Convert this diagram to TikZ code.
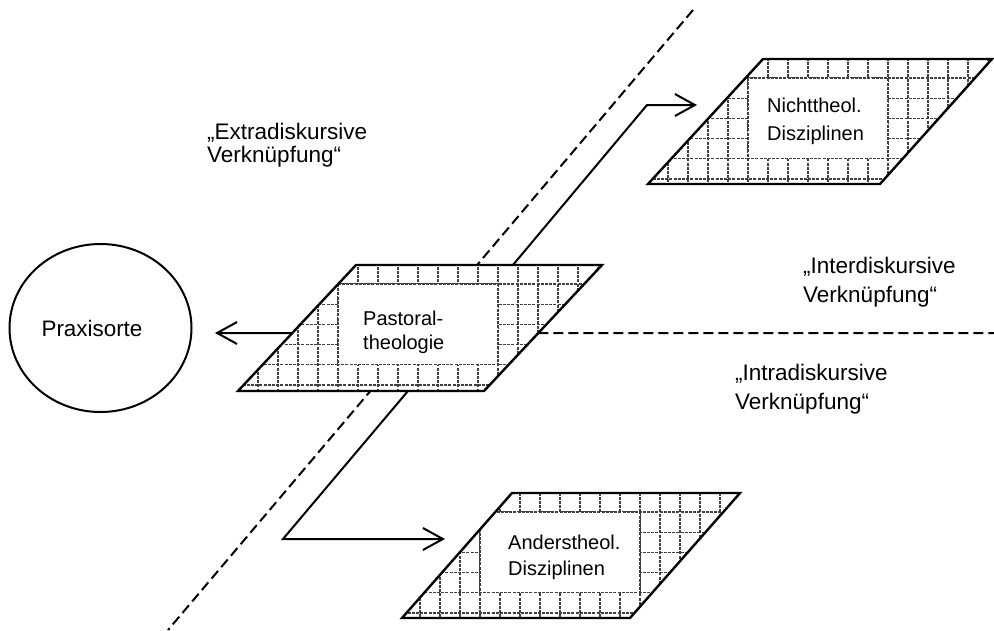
\documentclass[tikz,border=0pt]{standalone}
\usepackage{fontspec}
\setmainfont{Liberation Sans}
\usetikzlibrary{shapes.geometric,arrows.meta,calc}
\pgfdeclarelayer{bg}
\pgfsetlayers{bg,main}
\tikzset{
  gridline/.style={line width=1.1pt, black!75, dash pattern=on 3pt off 1.2pt},
  rim/.style={line width=2.4pt, line join=miter},
  conn/.style={line width=2pt},
  barb/.style={-{Straight Barb[length=20pt,width=22pt]}},
  divider/.style={line width=2pt, dash pattern=on 10pt off 5pt},
  lbl/.style={anchor=west, inner sep=0pt, align=left, font=\fontsize{22.5}{29}\selectfont},
  boxtext/.style={anchor=west, inner sep=0pt, align=left},
}
\begin{document}
\begin{tikzpicture}[x=1pt,y=-1pt]
\fill[white] (0,0) rectangle (994,630);
\useasboundingbox (0,0) rectangle (994,630);

% corners of the parallelograms
\coordinate (pBL) at (238,391); \coordinate (pTL) at (356,265);
\coordinate (pTR) at (602,265); \coordinate (pBR) at (484,391);
\coordinate (nBL) at (648,184); \coordinate (nTL) at (763,59);
\coordinate (nTR) at (992,59);  \coordinate (nBR) at (880,184);
\coordinate (aBL) at (402,618); \coordinate (aTL) at (512,493);
\coordinate (aTR) at (740,493); \coordinate (aBR) at (630,618);

% free ends
\coordinate (dtop) at (693,10);
\coordinate (dbot) at (168,630);
\coordinate (hend) at (994,333);
\coordinate (ptip) at (215,333);
\coordinate (nbend) at (647,105);
\coordinate (ntip) at (697,105);
\coordinate (abend) at (283,539);
\coordinate (atip) at (445,539);

% connection points on Pastoraltheologie
\coordinate (pleft)  at ($(pTL)!0.5397!(pBL)$);
\coordinate (pright) at ($(pTR)!0.5397!(pBR)$);
\coordinate (ptop)   at ($(pTL)!0.638!(pTR)$);
\coordinate (pbot)   at ($(pBL)!0.691!(pBR)$);

% dividers and connectors (behind the boxes)
\draw[divider] (dtop) -- (dbot);
\draw[divider] (pright) -- (hend);
\draw[conn,barb] (pleft) -- (ptip);
\draw[conn,barb] (ptop) -- (nbend) -- (ntip);
\draw[conn,barb] (pbot) -- (abend) -- (atip);

% Pastoraltheologie
\fill[white] (pBL) -- (pTL) -- (pTR) -- (pBR) -- cycle;
\begin{scope}
\clip (pBL) -- (pTL) -- (pTR) -- (pBR) -- cycle;
\foreach \x in {238,258,...,598} \draw[gridline] (\x,250) -- (\x,400);
\foreach \y in {284,304.2,324.4,344.6,364.8,385} \draw[gridline] (230,\y) -- (610,\y);
\fill[white] (338,284) rectangle (498,364.8);
\draw[gridline] (338,284) rectangle (498,364.8);
\end{scope}
\draw[rim] (pBL) -- (pTL) -- (pTR) -- (pBR) -- cycle;

% Nichttheol. Disziplinen
\fill[white] (nBL) -- (nTL) -- (nTR) -- (nBR) -- cycle;
\begin{scope}
\clip (nBL) -- (nTL) -- (nTR) -- (nBR) -- cycle;
\foreach \x in {648,668,...,988} \draw[gridline] (\x,45) -- (\x,195);
\foreach \y in {78,98.2,118.4,138.6,158.8,179} \draw[gridline] (640,\y) -- (1000,\y);
\fill[white] (748,78) rectangle (888,158.8);
\draw[gridline] (748,78) rectangle (888,158.8);
\end{scope}
\draw[rim] (nBL) -- (nTL) -- (nTR) -- (nBR) -- cycle;

% Anderstheol. Disziplinen
\fill[white] (aBL) -- (aTL) -- (aTR) -- (aBR) -- cycle;
\begin{scope}
\clip (aBL) -- (aTL) -- (aTR) -- (aBR) -- cycle;
\foreach \x in {400,420,...,740} \draw[gridline] (\x,480) -- (\x,630);
\foreach \y in {512,532.2,552.4,572.6,592.8,613} \draw[gridline] (395,\y) -- (750,\y);
\fill[white] (480,512) rectangle (640,592.8);
\draw[gridline] (480,512) rectangle (640,592.8);
\end{scope}
\draw[rim] (aBL) -- (aTL) -- (aTR) -- (aBR) -- cycle;

% box texts
\node[boxtext, font=\fontsize{20}{24}\selectfont] (pasttext) at (363,332) {Pastoral-\\theologie};
\node[boxtext, font=\fontsize{20}{28}\selectfont] (nichttext) at (767,121) {Nichttheol.\\Disziplinen};
\node[boxtext, font=\fontsize{20}{26}\selectfont] (anderstext) at (508,557) {Anderstheol.\\Disziplinen};

% Praxisorte
\node[ellipse, draw, line width=2pt, minimum width=182pt, minimum height=168pt, inner sep=0pt,
      font=\fontsize{22.4}{26}\selectfont] (praxis) at (100.5,328) {Praxisorte\kern17pt};

% labels
\node[lbl, font=\fontsize{22.5}{23}\selectfont] (extra) at (207,145) {„Extradiskursive\\Verknüpfung“};
\node[lbl] (inter) at (803,282) {„Interdiskursive\\Verknüpfung“};
\node[lbl] (intra) at (735,389.5) {„Intradiskursive\\Verknüpfung“};
\end{tikzpicture}
\end{document}
